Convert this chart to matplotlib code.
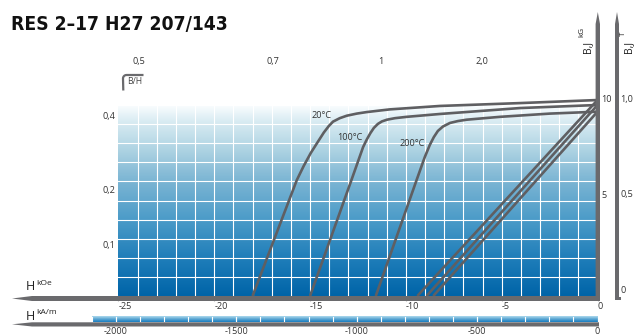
import numpy as np
import matplotlib
matplotlib.use("Agg")
import matplotlib.pyplot as plt
import matplotlib.transforms as mtransforms
import matplotlib.font_manager as fm
from matplotlib.colors import LinearSegmentedColormap
from matplotlib.patches import Polygon
from matplotlib.lines import Line2D

# ---------------- data ----------------
TITLE = "RES 2–17 H27 207/143"

# intrinsic J(H) demagnetisation curves (H in kOe, J in kG)
j20_H = [-18.0, -15.69, -15.33, -14.96, -14.6, -14.28, -14.02, -13.8, -13.45,
         -13.08, -12.56, -12.04, -10.84, -8.22, -4.05, 0.0]
j20_B = [0.0, 6.07, 6.81, 7.49, 8.06, 8.56, 8.9, 9.13, 9.31,
         9.44, 9.55, 9.63, 9.77, 9.95, 10.1, 10.26]

j100_H = [-15.0, -12.84, -12.23, -12.04, -11.85, -11.67, -11.46, -11.25,
          -10.99, -10.57, -9.96, -8.22, -4.05, 0.0]
j100_B = [0.0, 6.07, 7.8, 8.19, 8.53, 8.8, 9.01, 9.14,
          9.23, 9.31, 9.38, 9.53, 9.84, 10.0]

j200_H = [-11.57, -9.44, -9.01, -8.75, -8.54, -8.33, -8.07, -7.7, -7.28,
          -6.83, -6.14, -5.09, -2.48, 0.0]
j200_B = [0.0, 6.07, 7.28, 7.91, 8.32, 8.64, 8.87, 9.06, 9.16,
          9.23, 9.29, 9.38, 9.55, 9.65]

# normal B(H) lines
b20_H = [-9.4, 0.0];  b20_B = [0.0, 10.26]
b100_H = [-8.92, 0.0]; b100_B = [0.0, 10.0]
b200_H = [-8.57, 0.0]; b200_B = [0.0, 9.65]

temp_labels = ["20°C", "100°C", "200°C"]

H_KOE_TICKS = [-25, -20, -15, -10, -5, 0]
H_KAM_TICKS = [-2000, -1500, -1000, -500, 0]
B_KG_TICKS = [10, 5]
B_KG_LABELS = ["10", "5"]
B_T_TICKS = [10, 5, 0]
B_T_LABELS = ["1,0", "0,5", "0"]
BH_LEFT_LABELS = ["0,4", "0,2", "0,1"]
BH_TOP_LABELS = ["0,5", "0,7", "1", "2,0"]

KAM_PER_KOE = 79.5775

# ---------------- style ----------------
W, H = 635, 336
GREY = "#5f5f62"
BAR = "#6a6a6d"
TXT = "#333333"
FONT = ["Open Sans", "DejaVu Sans"]

plt.rcParams["font.family"] = FONT

fig = plt.figure(figsize=(W / 100, H / 100), dpi=100)
fig.patch.set_facecolor("white")


def fx(x):
    return x / W


def fy(y):
    return 1 - y / H


def poly(pts, color):
    p = Polygon([(fx(x), fy(y)) for x, y in pts], closed=True,
                transform=fig.transFigure, facecolor=color, edgecolor="none")
    fig.add_artist(p)


def fline(xs, ys, color, lw):
    fig.add_artist(Line2D([fx(x) for x in xs], [fy(y) for y in ys],
                          transform=fig.transFigure, color=color, lw=lw,
                          solid_capstyle="butt"))


X0, X1 = 118.4, 597.5
Y0 = 296.0          # B = 0
PXKG = 19.1
BTOP = 10.0

ax = fig.add_axes([fx(X0), fy(Y0), (X1 - X0) / W, BTOP * PXKG / H])
ax.axis("off")

cmap = LinearSegmentedColormap.from_list("bg", [
    (0.00, (0 / 255, 100 / 255, 168 / 255)),
    (0.19, (30 / 255, 125 / 255, 185 / 255)),
    (0.40, (75 / 255, 155 / 255, 200 / 255)),
    (0.61, (125 / 255, 182 / 255, 212 / 255)),
    (0.76, (172 / 255, 210 / 255, 226 / 255)),
    (0.92, (218 / 255, 236 / 255, 243 / 255)),
    (1.00, (250 / 255, 253 / 255, 254 / 255)),
])
ax.imshow(np.linspace(0, 1, 256)[:, None], cmap=cmap, origin="lower",
          extent=[-25, 0, 0, BTOP], aspect="auto", zorder=0,
          interpolation="bilinear")
ax.set_xlim(-25, 0)
ax.set_ylim(0, BTOP)

for h in range(-24, 0):
    ax.axvline(h, color="white", lw=0.8, zorder=1)
for b in range(1, 11):
    ax.axhline(b, color="white", lw=0.8, zorder=1)

for hh, bb in [(j20_H, j20_B), (j100_H, j100_B), (j200_H, j200_B),
               (b20_H, b20_B), (b100_H, b100_B), (b200_H, b200_B)]:
    ax.plot(hh, bb, color=GREY, lw=1.9, solid_joinstyle="round",
            solid_capstyle="butt", zorder=3, clip_on=False)

for lbl, (px, py) in zip(temp_labels, [(321, 115), (350, 138), (412, 143)]):
    fig.text(fx(px), fy(py), lbl, ha="center", va="center", fontsize=6.6,
             color=TXT)

# ---------------- axis bars ----------------
poly([(12, 298.5), (32, 296), (599, 296), (599, 301), (32, 301)], BAR)
poly([(12, 324.3), (32, 322.3), (599, 322.3), (599, 326.5), (32, 326.5)], BAR)
poly([(597.8, 12), (600, 24), (600, 301), (595.6, 301), (595.6, 24)], BAR)
poly([(617, 12), (619, 24), (619, 300), (615, 300), (615, 24)], BAR)
poly([(615, 296.5), (621, 296.5), (621, 300), (615, 300)], BAR)

tr_kx = mtransforms.blended_transform_factory(ax.transData, fig.transFigure)
for t in H_KOE_TICKS:
    ax.plot([t, t], [fy(296), fy(301)], transform=tr_kx, color="#d9d9d9",
            lw=0.8, clip_on=False)
    ax.text(t, fy(306.5), f"{t:d}", transform=tr_kx,
            ha="left", va="center", fontsize=6.6, color=TXT)

# kA/m strip
axk = fig.add_axes([fx(X0), fy(322.3), (X1 - X0) / W, 5.8 / H])
strip_cmap = LinearSegmentedColormap.from_list("strip", [
    (0.0, (25 / 255, 125 / 255, 192 / 255)),
    (0.5, (90 / 255, 165 / 255, 210 / 255)),
    (1.0, (175 / 255, 218 / 255, 238 / 255)),
])
im = axk.imshow(np.linspace(0, 1, 64)[:, None], cmap=strip_cmap,
                origin="lower", extent=[-2100, 0, 0, 1], aspect="auto",
                interpolation="bilinear")
im.set_clip_on(False)
axk.set_xlim(-25 * KAM_PER_KOE, 0)
axk.set_ylim(0, 1)
axk.axis("off")
for v in range(-2100, 1, 100):
    axk.plot([v, v], [0, 1], color="white", lw=0.8, clip_on=False)
tr_ka = mtransforms.blended_transform_factory(axk.transData, fig.transFigure)
for v in H_KAM_TICKS:
    axk.plot([v, v], [fy(316.5), fy(326.5)], transform=tr_ka, color="white",
             lw=0.8, clip_on=False)
    axk.text(v, fy(332), f"{v:d}", transform=tr_ka, ha="center",
             va="center", fontsize=6.6, color=TXT)

# axis names
fig.text(fx(26), fy(287), "H", fontsize=9, color="#222222", ha="left",
         va="center")
fig.text(fx(36.5), fy(283.5), "kOe", fontsize=6, color="#222222", ha="left",
         va="center")
fig.text(fx(26), fy(316.5), "H", fontsize=9, color="#222222", ha="left",
         va="center")
fig.text(fx(36.5), fy(313), "kA/m", fontsize=6, color="#222222",
         ha="left", va="center")

fig.text(fx(588), fy(47), "B,J", fontsize=7.5, rotation=90, color="#222222",
         ha="center", va="center")
fig.text(fx(581.5), fy(32), "kG", fontsize=5.8, rotation=90, color="#222222",
         ha="center", va="center")
fig.text(fx(629), fy(47), "B,J", fontsize=7.5, rotation=90, color="#222222",
         ha="center", va="center")
fig.text(fx(623), fy(34), "T", fontsize=5.8, rotation=90, color="#222222",
         ha="center", va="center")

off = mtransforms.offset_copy(ax.transData, fig=fig, x=0, y=5.5, units="dots")
tr_r = mtransforms.blended_transform_factory(fig.transFigure, off)
for v, s in zip(B_KG_TICKS, B_KG_LABELS):
    ax.text(fx(601), v, s, transform=tr_r, ha="left", va="center",
            fontsize=6.6, color=TXT)
for v, s in zip(B_T_TICKS, B_T_LABELS):
    ax.text(fx(620.5), v, s, transform=tr_r, ha="left", va="center",
            fontsize=6.6, color=TXT)

for s, py in zip(BH_LEFT_LABELS, [117, 190.5, 245.5]):
    fig.text(fx(115), fy(py), s, ha="right", va="center", fontsize=6.6,
             color=TXT)
for s, px in zip(BH_TOP_LABELS, [138.7, 272.5, 380.5, 481.7]):
    fig.text(fx(px), fy(61.5), s, ha="center", va="center", fontsize=6.6,
             color=TXT)

t_b = np.linspace(np.pi, np.pi / 2, 8)
cx, cy, r = 126.5, 78.5, 3.5
bx = [123.3] + list(cx + r * np.cos(t_b)) + [143.5]
by = [90.5] + list(cy - r * np.sin(t_b)) + [75]
fline(bx, by, BAR, 1.6)
fig.text(fx(127), fy(82), "B/H", fontsize=6.2, color="#444444", ha="left",
         va="center")

# title: prefer a condensed face, then fit to the reference width
cond = [f for f in fm.fontManager.ttflist
        if ("Narrow" in f.name or "Condensed" in f.name
            or "ondensed" in str(f.stretch) or "Condensed" in f.fname
            or "Narrow" in f.fname)]
cond_bold = [f for f in cond if f.weight in ("bold", 700, 600, "semibold",
                                             "demibold")]
if cond_bold:
    tprop = fm.FontProperties(fname=cond_bold[0].fname)
elif cond:
    tprop = fm.FontProperties(fname=cond[0].fname)
else:
    tprop = fm.FontProperties(family=FONT, weight="semibold")
tprop.set_size(17.5)
ttl = fig.text(fx(11), fy(24), TITLE, fontproperties=tprop, color="#111111",
               ha="left", va="center")
fig.canvas.draw()
wpx = ttl.get_window_extent().width
target = 217.0
if wpx > 0:
    tprop.set_size(min(17.5, 17.5 * target / wpx))
    ttl.set_fontproperties(tprop)

fig.savefig("out.png", dpi=100)
